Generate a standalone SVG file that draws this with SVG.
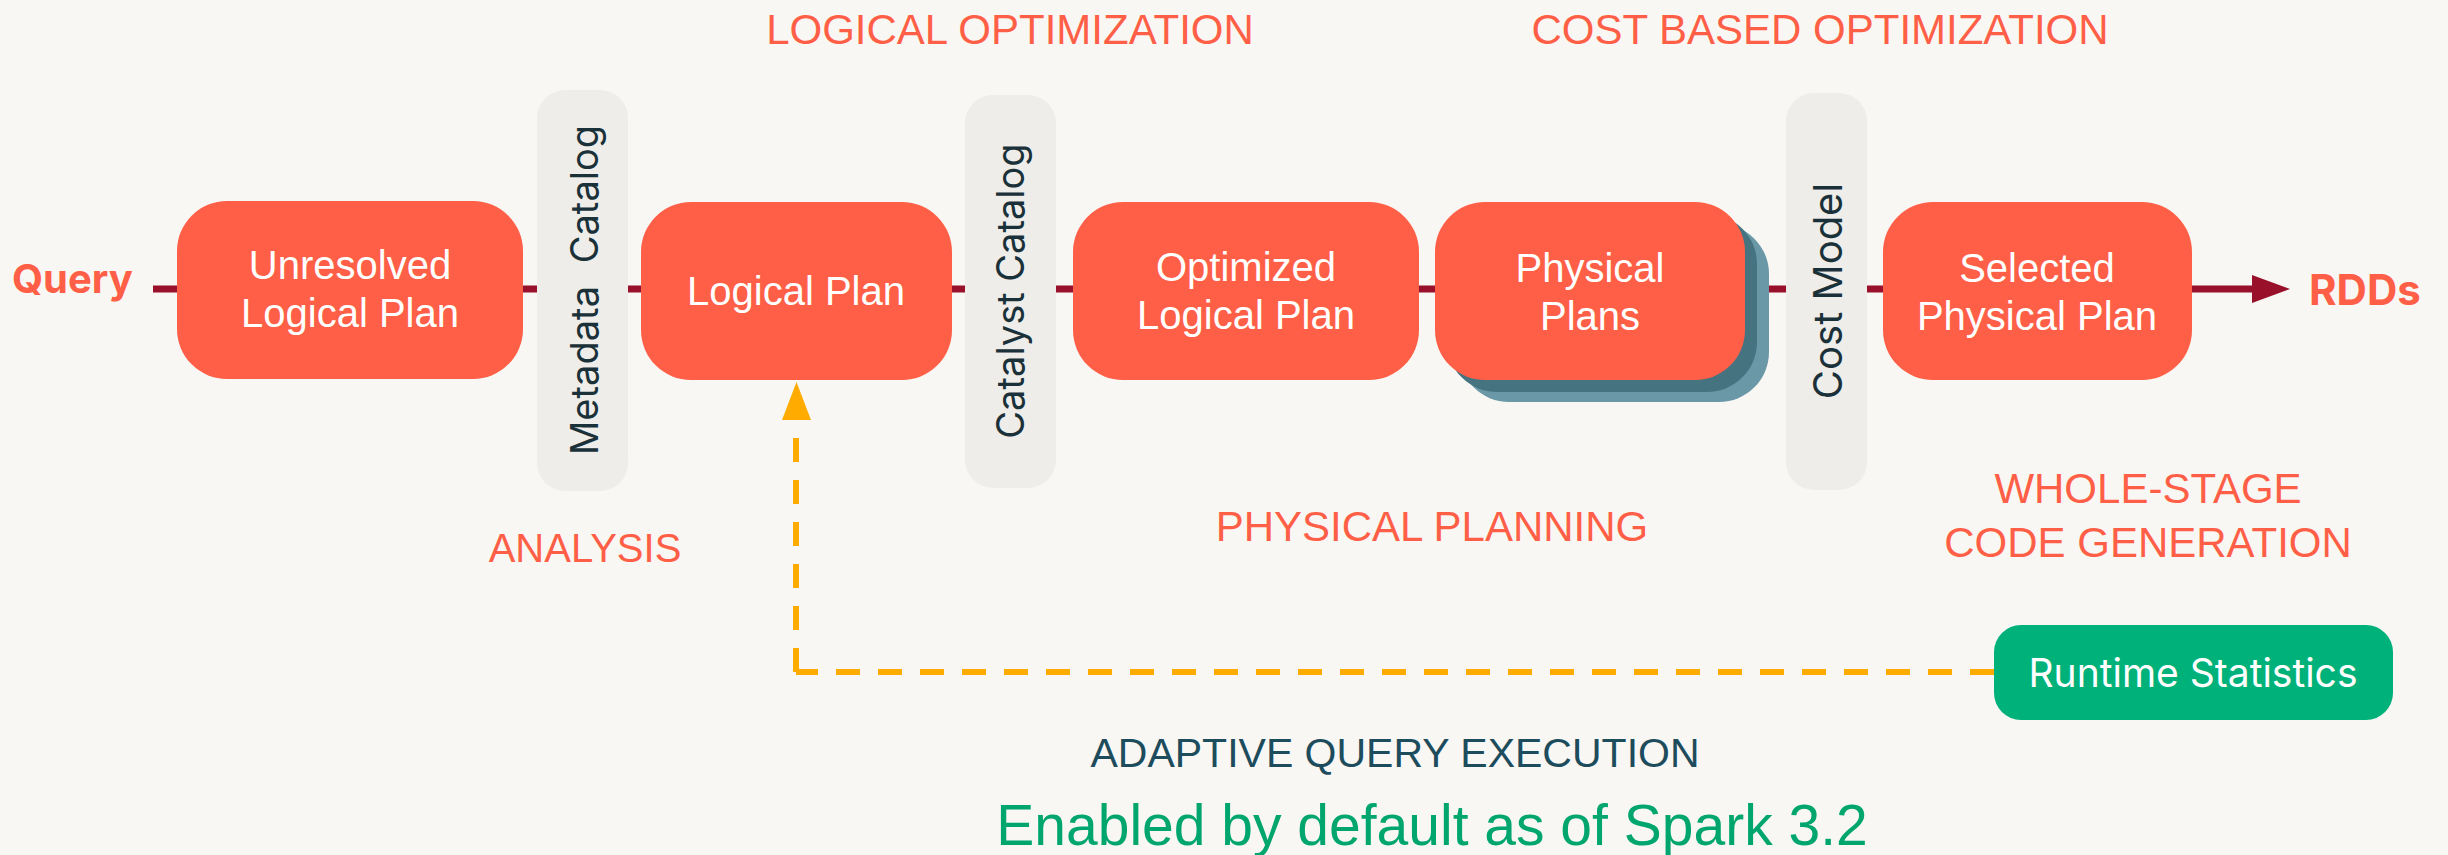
<svg xmlns="http://www.w3.org/2000/svg" width="2448" height="855" viewBox="0 0 2448 855">
<style>
.bg{fill:#F9F7F4}
.node{fill:#FF5F46}
.pill{fill:#EEEDE9}
.nt{font-family:"Liberation Sans",Arial,sans-serif;font-size:40px;fill:#FFFFFF;text-anchor:middle}
.pt{font-family:Inter,"Liberation Sans",sans-serif;font-size:38px;fill:#1B3139;text-anchor:middle}
.lbl{font-family:"Liberation Sans",Arial,sans-serif;font-size:42px;fill:#FF5F46;text-anchor:middle}
.io{font-family:Inter,"Liberation Sans",sans-serif;font-weight:bold;font-size:40px;fill:#FF5F46}
.flow{stroke:#98102A;stroke-width:7;fill:none}
.dash{stroke:#FFAB00;stroke-width:6;fill:none;stroke-dasharray:24 18}
</style>
<defs>
<marker id="arr" markerWidth="38" markerHeight="28" refX="0" refY="14" orient="auto" markerUnits="userSpaceOnUse">
<polygon points="0,0 38,14 0,28" fill="#98102A"/>
</marker>
</defs>
<rect class="bg" x="0" y="0" width="2448" height="855"/>

<g id="connectors">
<line class="flow" x1="153" y1="289" x2="2252" y2="289" marker-end="url(#arr)"/>
<path class="dash" d="M796 438 V672"/>
<path class="dash" d="M1994 672 H796"/>
<polygon points="782,420 796.5,382 811,420" fill="#FFAB00"/>
</g>

<g id="query"><text class="io" x="12" y="293">Query</text></g>
<g id="rdds"><text class="io" x="2309" y="305" style="font-size:42px">RDDs</text></g>

<g id="unresolved">
<rect class="node" x="177" y="201" width="346" height="178" rx="50"/>
<text class="nt" x="350" y="279">Unresolved</text>
<text class="nt" x="350" y="327">Logical Plan</text>
</g>

<g id="metadata-catalog">
<rect class="pill" x="537" y="90" width="91" height="401" rx="28"/>
<text class="pt" transform="translate(598 290) rotate(-90)" style="word-spacing:12px">Metadata Catalog</text>
</g>

<g id="logical-plan">
<rect class="node" x="641" y="202" width="311" height="178" rx="50"/>
<text class="nt" x="796" y="305">Logical Plan</text>
</g>

<g id="catalyst-catalog">
<rect class="pill" x="965" y="95" width="91" height="393" rx="28"/>
<text class="pt" transform="translate(1024 291) rotate(-90)">Catalyst Catalog</text>
</g>

<g id="optimized">
<rect class="node" x="1073" y="202" width="346" height="178" rx="50"/>
<text class="nt" x="1246" y="281">Optimized</text>
<text class="nt" x="1246" y="329">Logical Plan</text>
</g>

<g id="physical-plans">
<rect x="1459" y="224" width="310" height="178" rx="50" fill="#6A98A7"/>
<rect x="1447" y="214" width="310" height="178" rx="50" fill="#457380"/>
<rect class="node" x="1435" y="202" width="310" height="178" rx="50"/>
<text class="nt" x="1590" y="282">Physical</text>
<text class="nt" x="1590" y="330">Plans</text>
</g>

<g id="cost-model">
<rect class="pill" x="1786" y="93" width="81" height="397" rx="28"/>
<text class="pt" transform="translate(1842 291) rotate(-90)" style="font-size:40px">Cost Model</text>
</g>

<g id="selected">
<rect class="node" x="1883" y="202" width="309" height="178" rx="50"/>
<text class="nt" x="2037" y="282">Selected</text>
<text class="nt" x="2037" y="330">Physical Plan</text>
</g>

<g id="runtime-statistics">
<rect x="1994" y="625" width="399" height="95" rx="27" fill="#00B27A"/>
<text x="2193" y="687" font-family="Inter,'Liberation Sans',sans-serif" font-size="39" fill="#FFFFFF" text-anchor="middle">Runtime Statistics</text>
</g>

<g id="labels">
<text class="lbl" x="1010" y="44">LOGICAL OPTIMIZATION</text>
<text class="lbl" x="1820" y="44">COST BASED OPTIMIZATION</text>
<text class="lbl" x="585" y="562" style="font-size:40px">ANALYSIS</text>
<text class="lbl" x="1432" y="541">PHYSICAL PLANNING</text>
<text class="lbl" x="2148" y="503">WHOLE-STAGE</text>
<text class="lbl" x="2148" y="557">CODE GENERATION</text>
<text class="lbl" x="1395" y="767" style="font-size:41px;fill:#1D4C5C">ADAPTIVE QUERY EXECUTION</text>
<text class="lbl" x="1432" y="845" style="font-size:57px;fill:#00A66E">Enabled by default as of Spark 3.2</text>
</g>
</svg>
